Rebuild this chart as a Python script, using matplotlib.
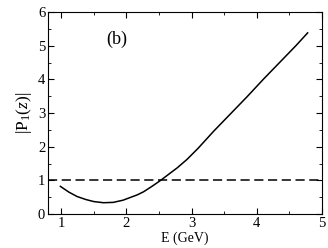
import matplotlib
matplotlib.use('Agg')
from matplotlib import pyplot as plt
from matplotlib.ticker import MultipleLocator

plt.rcParams['font.family'] = ['Liberation Serif', 'DejaVu Serif']
plt.rcParams['mathtext.fontset'] = 'custom'
plt.rcParams['mathtext.rm'] = 'Liberation Serif'
plt.rcParams['mathtext.it'] = 'Liberation Serif:italic'

# curve
energy = [0.99, 1.12, 1.245, 1.38, 1.5, 1.65, 1.8, 1.95, 2.06, 2.17, 2.265,
          2.4, 2.52, 2.65, 2.78, 2.93, 3.1, 3.34, 3.6, 3.85, 4.1, 4.36, 4.6, 4.78]
p1 = [0.82, 0.65, 0.52, 0.43, 0.37, 0.335, 0.345, 0.41, 0.49, 0.57, 0.66,
      0.83, 0.99, 1.18, 1.37, 1.62, 1.95, 2.46, 2.98, 3.48, 4.0, 4.52, 5.0, 5.38]
ref_level = 1.0

fig = plt.figure(figsize=(3.28, 2.48), dpi=100)
ax = fig.add_axes([48/328, 34/248, 274/328, 202/248])

ax.plot(energy, p1, color='black', lw=1.1)
ax.axhline(ref_level, color='black', lw=1.1, ls=(0, (6, 3)))

ax.set_xlim(0.8, 5)
ax.set_ylim(0, 6)
ax.xaxis.set_major_locator(MultipleLocator(1))
ax.xaxis.set_minor_locator(MultipleLocator(0.5))
ax.yaxis.set_major_locator(MultipleLocator(1))
ax.yaxis.set_minor_locator(MultipleLocator(0.5))
ax.tick_params(which='both', direction='in', top=True, right=True, labelsize=10.5, pad=2)
ax.tick_params(which='major', length=4)
ax.tick_params(which='minor', length=2)

ax.set_xlabel('E (GeV)', fontsize=10, labelpad=1)
ax.set_ylabel(r'$|\mathrm{P}_1(z)|$', fontsize=12.5, labelpad=3)
ax.text(1.70, 5.18, '(b)', fontsize=13, va='center')

fig.savefig('out.png', dpi=100)
